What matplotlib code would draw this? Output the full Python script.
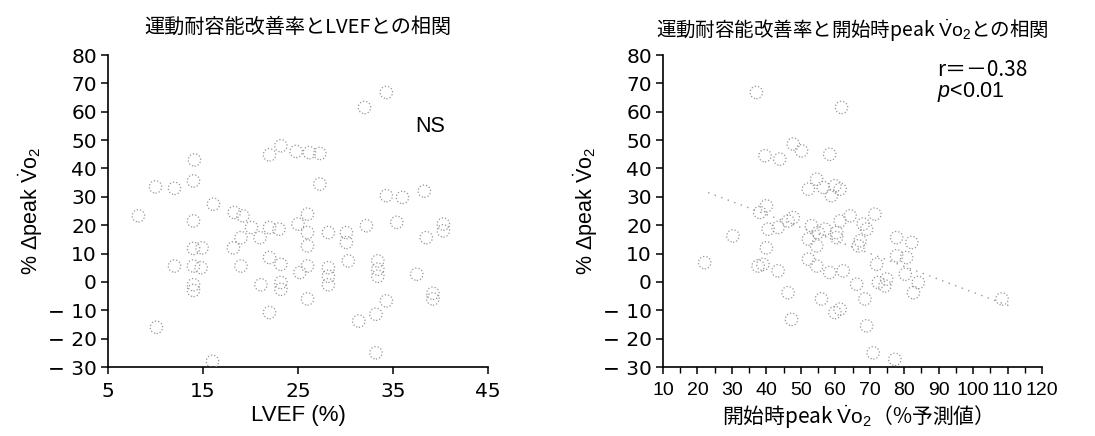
import matplotlib
matplotlib.use("Agg")
import matplotlib.pyplot as plt
from matplotlib.ticker import MultipleLocator

plt.rcParams['font.family'] = ['Noto Sans CJK JP', 'DejaVu Sans']
plt.rcParams['mathtext.fontset'] = 'custom'
plt.rcParams['mathtext.rm'] = 'Liberation Sans'
plt.rcParams['mathtext.it'] = 'Liberation Sans:italic'

# ---- Left panel data: LVEF (%) vs %Δpeak VO2 ----
lvef = [8.2, 10.0, 12.0, 10.1, 14.1, 14.0, 14.0, 14.0, 14.9, 12.0, 14.0, 14.8,
        14.0, 14.0, 16.1, 16.0, 18.2, 19.2, 18.3, 19.0, 19.0, 20.1, 21.0, 21.1,
        22.0, 23.2, 22.0, 23.0, 22.0, 23.2, 22.0, 23.2, 23.2, 24.8, 26.2, 27.3,
        27.3, 25.0, 26.0, 26.0, 26.0, 26.0, 25.2, 26.0, 28.2, 28.2, 28.2, 28.2,
        30.1, 30.1, 30.3, 31.4, 32.0, 32.2, 34.3, 33.4, 33.4, 33.4, 33.2, 33.2,
        34.3, 34.3, 36.0, 35.4, 38.3, 38.5, 37.5, 39.2, 39.2, 40.3, 40.3]
dvo2_left = [23.3, 33.5, 33.0, -16.0, 43.0, 35.6, 21.5, 11.8, 12.0, 5.6, 5.6, 5.0,
             -1.0, -3.0, 27.4, -28.0, 12.0, 23.3, 24.5, 15.6, 5.6, 19.2, 15.6, -1.0,
             44.8, 48.0, 19.2, 18.6, 8.6, 6.2, -10.8, -0.2, -2.6, 46.0, 45.6, 45.3,
             34.5, 20.4, 23.9, 17.4, 12.7, 5.6, 3.3, -6.0, 17.4, 5.0, 2.0, -1.0,
             17.4, 13.9, 7.4, -13.8, 61.5, 19.8, 66.8, 7.4, 4.5, 2.0, -11.4, -25.0,
             -6.7, 30.4, 29.8, 21.0, 32.0, 15.6, 2.7, -4.0, -6.0, 20.4, 18.0]

# ---- Right panel data: initial peak VO2 (% predicted) vs %Δpeak VO2 ----
vo2_init = [22.1, 30.3, 37.1, 37.6, 39.0, 39.6, 38.1, 40.0, 40.5, 40.0, 43.9, 43.4,
            43.4, 46.3, 47.8, 46.3, 47.8, 50.2, 47.3, 52.2, 54.6, 53.1, 52.2, 54.6,
            56.5, 52.2, 54.6, 55.0, 57.0, 56.0, 58.4, 58.4, 58.9, 59.9, 61.4, 60.4,
            60.4, 61.4, 61.8, 62.3, 61.4, 59.9, 64.3, 66.2, 66.7, 67.2, 68.1, 69.1,
            68.6, 69.1, 71.5, 71.0, 72.0, 72.5, 74.4, 74.9, 77.8, 77.8, 77.3, 80.7,
            80.3, 82.2, 82.7, 84.1, 108.4]
dvo2_right = [6.8, 16.2, 66.8, 5.6, 6.2, 44.5, 24.5, 26.8, 18.6, 12.0, 43.3, 3.9,
              19.2, 21.5, 22.7, -3.8, 48.6, 46.2, -13.2, 8.0, 5.6, 19.8, 32.7, 36.2,
              33.3, 15.1, 12.7, 17.4, 18.6, -6.0, 3.3, 45.0, 30.4, 33.9, 32.7, 17.4,
              15.6, 21.5, 61.5, 3.9, -9.6, -10.8, 23.3, -0.8, 12.7, 14.5, 20.4, 18.6,
              -6.0, -15.5, 23.9, -25.0, 6.2, -0.2, -1.4, 1.0, 15.6, 9.2, -27.3, 8.6,
              2.7, 13.9, -3.8, -0.2, -6.0]

# regression line endpoints
fit_x = [23.1, 111.7]
fit_y = [31.5, -9.0]

left_xticks = [5, 15, 25, 35, 45]
right_xticks = [10, 20, 30, 40, 50, 60, 70, 80, 90, 100, 110, 120]
yticks = [-30, -20, -10, 0, 10, 20, 30, 40, 50, 60, 70, 80]

fig = plt.figure(figsize=(10.95, 4.36), dpi=100)
axL = fig.add_axes([108/1095, 1-367/436, 380/1095, 312/436])
axR = fig.add_axes([663/1095, 1-367/436, 379/1095, 312/436])

VO2 = r'$\dot{\mathrm{V}}\mathrm{o}_2$'
mk = dict(s=80, facecolors='none', edgecolors='#959595', linewidths=0.9,
          linestyles=':', zorder=3)
NUMFONT = 'DejaVu Sans'

for ax in (axL, axR):
    ax.set_ylim(-30, 80)
    ax.set_yticks(yticks)
    ax.set_yticklabels([('\u2212 ' + str(abs(v))) if v < 0 else str(v) for v in yticks],
                       fontfamily=NUMFONT, fontsize=14.5)
    for s in ('top', 'right'):
        ax.spines[s].set_visible(False)
    for s in ('left', 'bottom'):
        ax.spines[s].set_linewidth(1.2)
    ax.tick_params(axis='both', direction='out', length=5, width=1.1, colors='black')
    ax.tick_params(axis='y', pad=3)
    ax.tick_params(axis='x', pad=6)
    ax.set_ylabel('% $\\mathit{\\Delta}$peak ' + VO2, fontsize=15.5, labelpad=2,
                  fontfamily='Liberation Sans')

axL.scatter(lvef, dvo2_left, **mk)
axL.set_xlim(5, 45)
axL.set_xticks(left_xticks)
axL.set_xticklabels([str(v) for v in left_xticks], fontfamily=NUMFONT, fontsize=14.5)
axL.set_xlabel('LVEF (%)', fontsize=16, fontfamily='Liberation Sans', labelpad=3)
axL.set_title('運動耐容能改善率とLVEFとの相関', fontsize=14.5, pad=16)
axL.text(0.847, 0.77, 'NS', transform=axL.transAxes, ha='center', va='center',
         fontsize=15.5, fontfamily='Liberation Sans')

axR.plot(fit_x, fit_y, linestyle=(0, (1, 4)), color='#999999', linewidth=1.0, zorder=2)
axR.scatter(vo2_init, dvo2_right, **mk)
axR.set_xlim(10, 120)
axR.set_xticks(right_xticks)
axR.xaxis.set_minor_locator(MultipleLocator(5))
axR.tick_params(axis='x', which='minor', direction='out', length=4, width=1.0)
axR.set_xticklabels([str(v) for v in right_xticks],
                    fontfamily=['Liberation Sans Narrow', 'Liberation Sans'],
                    fontsize=14)
axR.set_xlabel('開始時peak ' + VO2 + '（%予測値）', fontsize=15, labelpad=3)
axR.set_title('運動耐容能改善率と開始時peak ' + VO2 + 'との相関', fontsize=14, pad=14)
axR.text(0.723, 0.952, 'r＝－0.38', transform=axR.transAxes, ha='left', va='center',
         fontsize=15)
axR.text(0.723, 0.882, '$p$<0.01', transform=axR.transAxes, ha='left', va='center',
         fontsize=15.5, fontfamily='Liberation Sans')

fig.savefig('out.png', dpi=100)
